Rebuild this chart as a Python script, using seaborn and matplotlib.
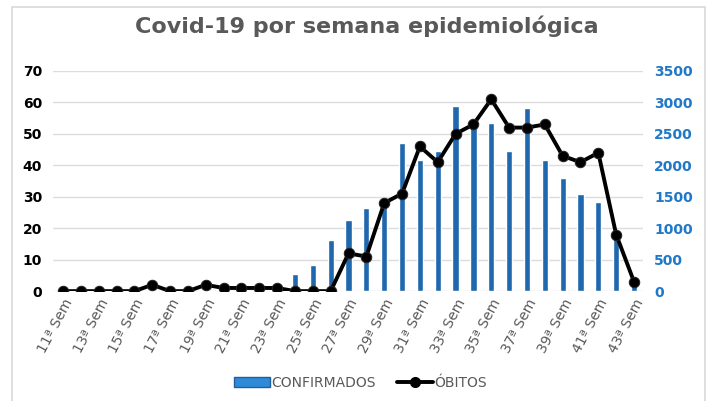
import numpy as np
import pandas as pd
import seaborn as sns
import matplotlib.pyplot as plt
from matplotlib.patches import Rectangle
from matplotlib.lines import Line2D
from matplotlib.patches import Patch

semanas = [f"{w}ª Sem" for w in range(11, 44)]
confirmados = [0, 0, 0, 0, 0, 0, 0, 0, 0, 0, 0, 0, 0,
               280, 420, 820, 1130, 1320, 1380, 2360, 2080, 2230, 2950,
               2650, 2680, 2220, 2910, 2080, 1800, 1540, 1410, 850, 150]
obitos = [0, 0, 0, 0, 0, 2, 0, 0, 2, 1, 1, 1, 1,
          0, 0, 0, 12, 11, 28, 31, 46, 41, 50,
          53, 61, 52, 52, 53, 43, 41, 44, 18, 3]

df = pd.DataFrame({"semana": semanas, "confirmados": confirmados, "obitos": obitos})
df["pos"] = np.arange(len(df))

sns.set_style("white")
plt.rcParams["font.family"] = ["DejaVu Sans"]

fig = plt.figure(figsize=(7.09, 4.01), dpi=100)
fig.patches.append(Rectangle((12 / 709, -0.05), 693 / 709, 1 - 7 / 401 + 0.05,
                             transform=fig.transFigure, fill=False,
                             edgecolor="#d9d9d9", linewidth=1.2))

ax_bar = fig.add_axes([0.0748, 0.274, 0.832, 0.549])
sns.barplot(data=df, x="semana", y="confirmados", color="#1f68ad",
            width=0.35, saturation=1, ax=ax_bar)

ax_line = ax_bar.twinx()
sns.lineplot(data=df, x="pos", y="obitos", color="black", linewidth=2.8,
             marker="o", markersize=7.5, markeredgecolor="#222222", ax=ax_line)

# bars -> right axis (blue), line -> left axis (black)
ax_bar.set_ylim(0, 3500)
ax_bar.set_yticks(range(0, 3501, 500))
ax_bar.tick_params(axis="y", left=False, labelleft=False, right=False,
                   labelright=True, colors="#1f78c8", length=0, pad=8,
                   labelsize=10)
for t in ax_bar.get_yticklabels():
    t.set_fontweight("bold")
ax_bar.grid(axis="y", color="#dcdcdc", linewidth=1)
ax_bar.set_axisbelow(True)
ax_bar.set_xlabel("")
ax_bar.set_ylabel("")
ax_bar.set_xlim(-0.56, 32.5)
ax_bar.set_xticks(range(0, 33, 2))
ax_bar.set_xticklabels(semanas[::2], rotation=62, ha="right",
                       rotation_mode="anchor", color="#595959", fontsize=10)
ax_bar.tick_params(axis="x", length=0, pad=4)
for s in ax_bar.spines.values():
    s.set_visible(False)

ax_line.set_ylim(0, 70)
ax_line.set_yticks(range(0, 71, 10))
ax_line.tick_params(axis="y", right=False, labelright=False, left=False,
                    labelleft=True, colors="black", length=0, pad=8,
                    labelsize=10)
for t in ax_line.get_yticklabels():
    t.set_fontweight("bold")
ax_line.set_xlim(-0.56, 32.5)
ax_line.set_xlabel("")
ax_line.set_ylabel("")
for s in ax_line.spines.values():
    s.set_visible(False)

fig.text(0.518, 0.935, "Covid-19 por semana epidemiológica", ha="center",
         va="center", fontsize=16, fontweight="bold", color="#595959")

handles = [Patch(facecolor="#2f8ad8", edgecolor="#1f5f9f", label="CONFIRMADOS"),
           Line2D([0], [0], color="black", linewidth=2.8, marker="o",
                  markersize=7, label="ÓBITOS")]
fig.legend(handles=handles, loc="center", bbox_to_anchor=(0.508, 0.045),
           ncol=2, frameon=False, fontsize=10, labelcolor="#595959",
           handlelength=2.6, handletextpad=0.1, columnspacing=1.5)

fig.savefig("out.png", dpi=100)
